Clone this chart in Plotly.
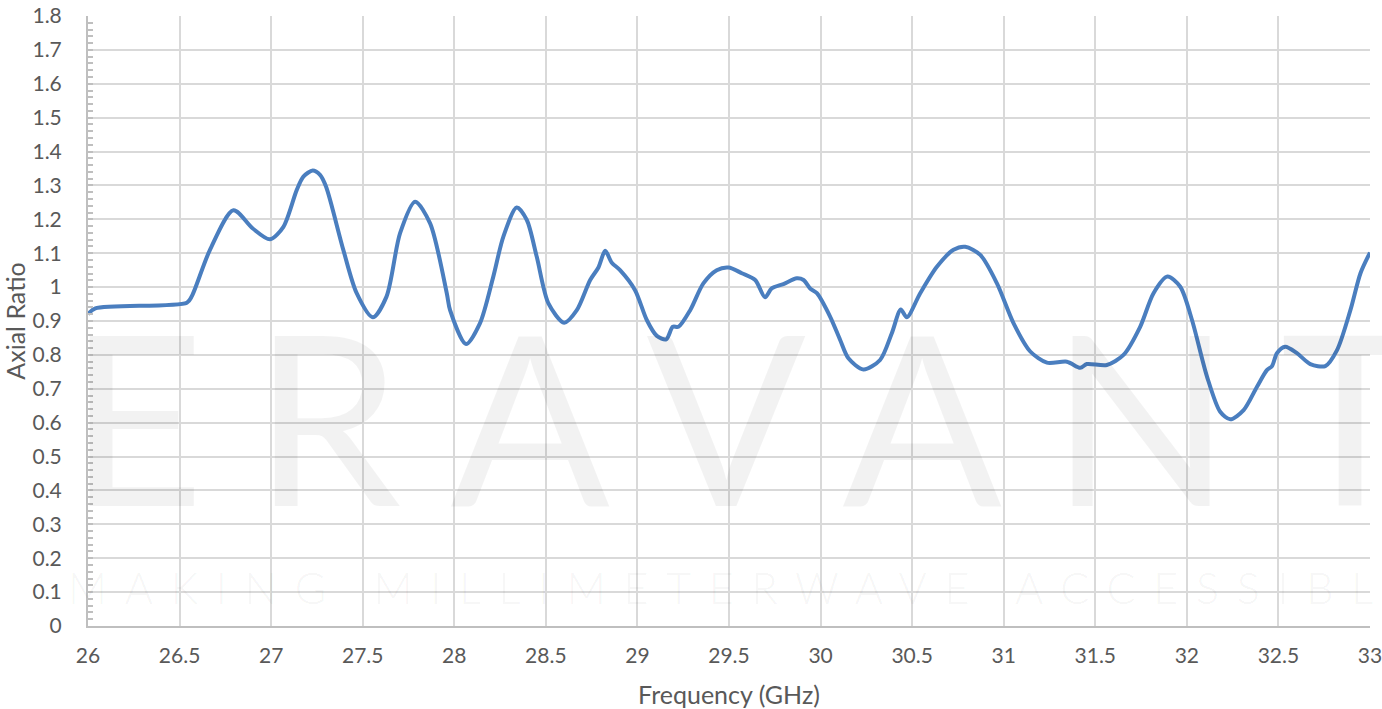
import plotly.graph_objects as go

# ---- data ----
freq_ghz = [
    26.00, 26.04, 26.54, 26.566, 26.666, 26.794, 26.90, 26.994, 27.067, 27.14,
    27.176, 27.227, 27.267, 27.30, 27.394, 27.467, 27.555, 27.63, 27.704, 27.786,
    27.868, 27.959, 27.977, 28.064, 28.14, 28.213, 28.268, 28.341, 28.396, 28.45,
    28.514, 28.60, 28.669, 28.742, 28.787, 28.824, 28.86, 28.905, 28.987, 29.051,
    29.106, 29.157, 29.193, 29.224, 29.288, 29.36, 29.433, 29.497, 29.57, 29.643,
    29.697, 29.733, 29.797, 29.87, 29.907, 29.943, 29.98, 30.052, 30.107, 30.152,
    30.234, 30.325, 30.389, 30.438, 30.471, 30.544, 30.635, 30.726, 30.79, 30.872,
    30.963, 31.054, 31.145, 31.236, 31.345, 31.418, 31.454, 31.563, 31.654, 31.745,
    31.818, 31.894, 31.964, 32.028, 32.11, 32.182, 32.237, 32.31, 32.383, 32.437,
    32.465, 32.492, 32.537, 32.601, 32.674, 32.756, 32.82, 32.893, 32.948, 33.00,
]
axial_ratio = [
    0.920, 0.937, 0.954, 0.972, 1.110, 1.227, 1.173, 1.141, 1.178, 1.287,
    1.326, 1.344, 1.331, 1.296, 1.110, 0.982, 0.911, 0.972, 1.159, 1.252,
    1.188, 0.982, 0.932, 0.832, 0.893, 1.031, 1.149, 1.235, 1.198, 1.090,
    0.952, 0.895, 0.932, 1.021, 1.058, 1.107, 1.072, 1.050, 0.991, 0.903,
    0.856, 0.846, 0.883, 0.883, 0.932, 1.011, 1.050, 1.058, 1.041, 1.021,
    0.970, 0.996, 1.009, 1.026, 1.021, 0.996, 0.982, 0.913, 0.844, 0.790,
    0.757, 0.785, 0.864, 0.934, 0.911, 0.982, 1.060, 1.110, 1.119, 1.095,
    1.011, 0.893, 0.810, 0.777, 0.780, 0.762, 0.773, 0.770, 0.800, 0.883,
    0.982, 1.031, 1.001, 0.903, 0.736, 0.632, 0.610, 0.637, 0.706, 0.755,
    0.767, 0.805, 0.824, 0.805, 0.773, 0.767, 0.814, 0.932, 1.041, 1.102,
]

x_tick_vals = [26, 26.5, 27, 27.5, 28, 28.5, 29, 29.5, 30, 30.5, 31, 31.5, 32, 32.5, 33]
x_tick_text = ["26", "26.5", "27", "27.5", "28", "28.5", "29", "29.5", "30",
               "30.5", "31", "31.5", "32", "32.5", "33"]
y_tick_vals = [round(i * 0.1, 1) for i in range(19)]
y_tick_text = ["0"] + [f"{v:g}" for v in y_tick_vals[1:]]

x_title = "Frequency (GHz)"
y_title = "Axial Ratio"
watermark_main = "ERAVANT"
watermark_sub = "MAKING MILLIMETERWAVE ACCESSIBLE"

# ---- layout geometry (window pixels) ----
W, H = 1382, 709
PL, PR, PT, PB = 88, 1370, 16, 626          # plot area in window pixels
L, R, T, B = PL, W - PR, PT, H - PB

def px_to_paper(px, py):
    return (px - PL) / (PR - PL), (PB - py) / (PB - PT)

FONT = "Lato"
TXT = "#595959"
GRID = "#d9d9d9"
AXIS = "#bfbfbf"
WM = "rgba(0,0,0,0.05)"

fig = go.Figure()
fig.add_trace(go.Scatter(
    x=freq_ghz, y=axial_ratio, mode="lines",
    line=dict(color="#4a7ebf", width=4, shape="spline", smoothing=0.8),
    showlegend=False, hoverinfo="x+y",
))

mx, my = px_to_paper(66, 414.5)
sx, sy = px_to_paper(66, 587)
sub_text = watermark_sub.replace(" ", "\u00a0")
annotations = [
    dict(text=f'<span style="letter-spacing:49px">{watermark_main}</span>',
         x=mx, y=my, xref="paper", yref="paper", xanchor="left", yanchor="middle",
         showarrow=False, font=dict(family="Lato", size=236, color=WM)),
    dict(text=f'<span style="letter-spacing:17.7px">{sub_text}</span>',
         x=sx, y=sy, xref="paper", yref="paper", xanchor="left", yanchor="middle",
         showarrow=False, font=dict(family="Lato", size=43, color=WM, weight=300)),
]

fig.update_layout(
    width=W, height=H,
    margin=dict(l=L, r=R, t=T, b=B, pad=0),
    paper_bgcolor="white", plot_bgcolor="white",
    font=dict(family=FONT, color=TXT, size=21),
    annotations=annotations,
    xaxis=dict(
        range=[26, 33], tickvals=x_tick_vals, ticktext=x_tick_text,
        showgrid=True, gridcolor=GRID, gridwidth=1.5,
        showline=True, linecolor=AXIS, linewidth=2,
        ticks="", zeroline=False, ticklabelstandoff=10, automargin=False,
        ticklabeloverflow="allow",
        tickfont=dict(family=FONT, size=21, color=TXT),
        title=dict(text=x_title, font=dict(family=FONT, size=25, color=TXT), standoff=23),
    ),
    yaxis=dict(
        range=[0, 1.8], tickvals=y_tick_vals, ticktext=y_tick_text,
        showgrid=True, gridcolor=GRID, gridwidth=1.5,
        showline=True, linecolor=AXIS, linewidth=2,
        ticks="inside", ticklen=5, tickcolor=AXIS, tickwidth=1.5,
        zeroline=False, ticklabelstandoff=20, automargin=False,
        ticklabeloverflow="allow",
        tickfont=dict(family=FONT, size=21, color=TXT),
        minor=dict(dtick=0.02, tick0=0, ticks="inside", ticklen=5,
                   tickcolor=AXIS, tickwidth=1.5, showgrid=False),
        title=dict(text=y_title, font=dict(family=FONT, size=25, color=TXT), standoff=18),
    ),
)

page_fix = ("document.documentElement.style.margin='0';"
            "document.body.style.margin='0';"
            "document.documentElement.style.overflow='hidden';"
            "document.body.style.overflow='hidden';")
fig.write_html("out.html", post_script=page_fix, config={"displayModeBar": False})
